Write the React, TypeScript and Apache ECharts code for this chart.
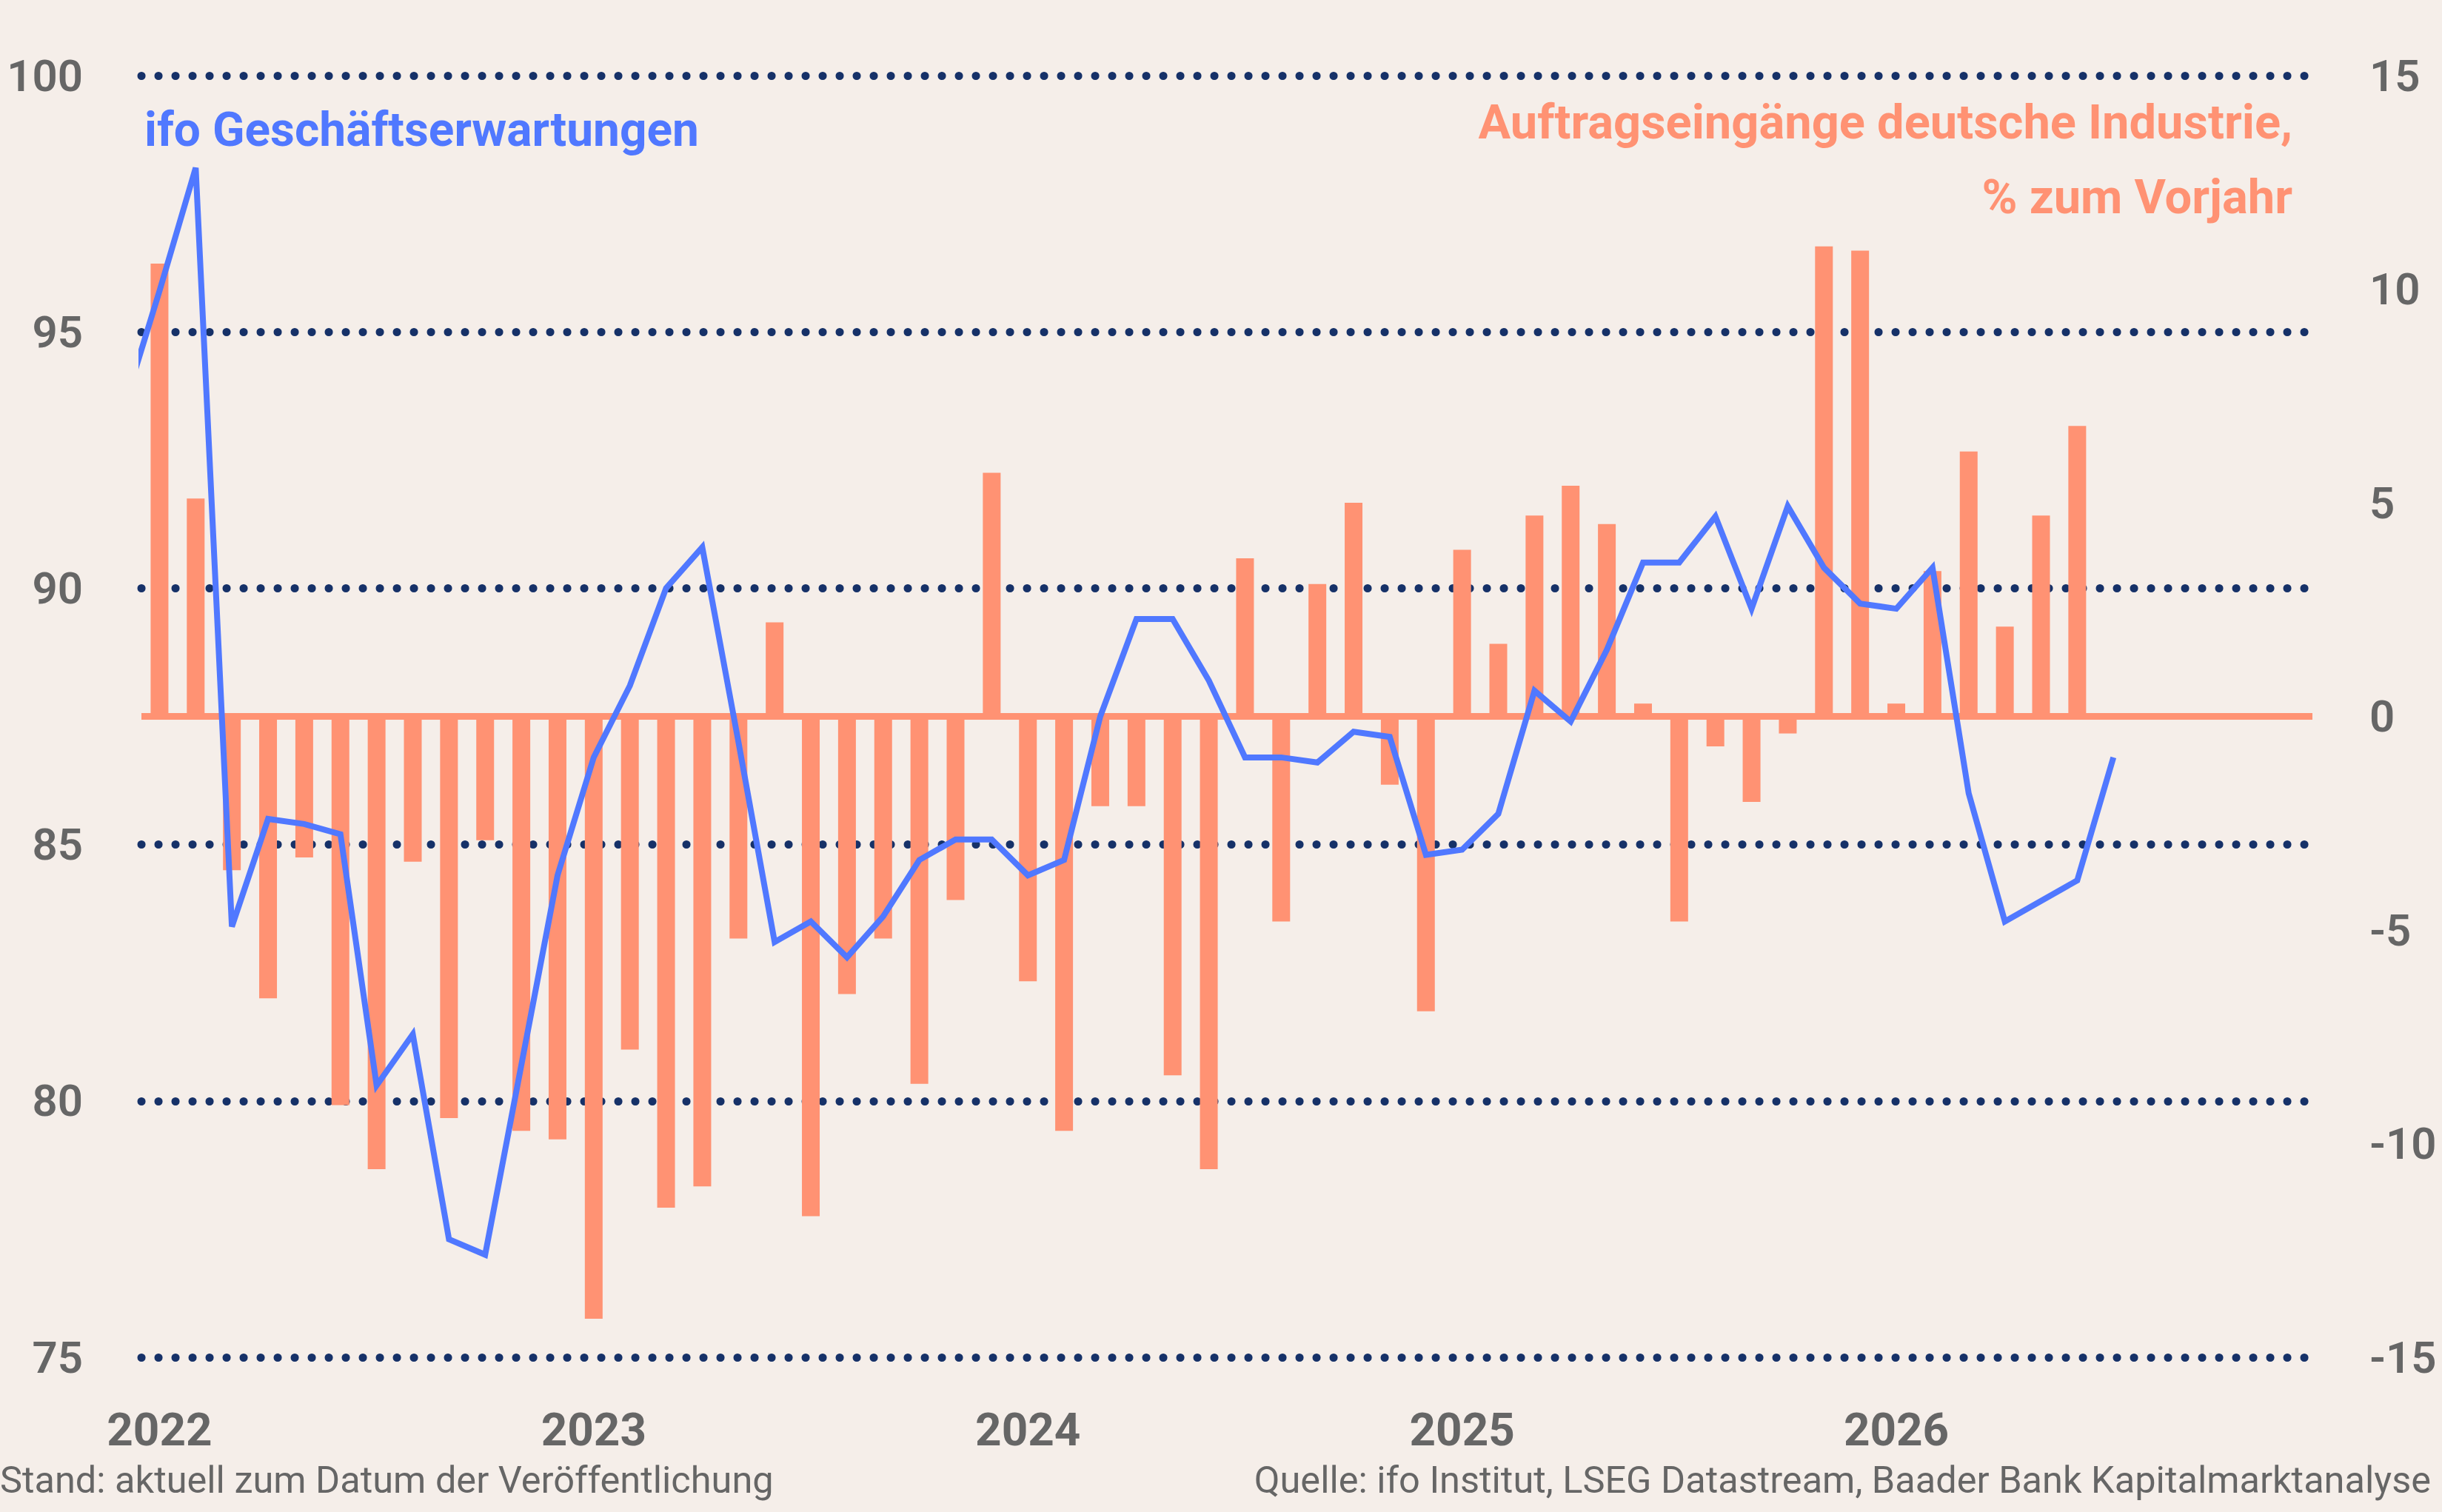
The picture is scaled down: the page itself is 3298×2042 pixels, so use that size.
import React, { useEffect, useRef } from "react";
import * as echarts from "echarts";

// ---- Data ----
const years = ["2022", "2023", "2024", "2025", "2026"];
const monthCodes = ["01", "02", "03", "04", "05", "06", "07", "08", "09", "10", "11", "12"];
const categories: string[] = [];
years.forEach((y) => monthCodes.forEach((m) => categories.push(`${y}-${m}`)));

// Auftragseingänge deutsche Industrie, % zum Vorjahr (Jan 2022 – Jun 2026)
const orders2022 = [10.6, 5.1, -3.6, -6.6, -3.3, -9.1, -10.6, -3.4, -9.4, -2.9, -9.7, -9.9];
const orders2023 = [-14.1, -7.8, -11.5, -11.0, -5.2, 2.2, -11.7, -6.5, -5.2, -8.6, -4.3, 5.7];
const orders2024 = [-6.2, -9.7, -2.1, -2.1, -8.4, -10.6, 3.7, -4.8, 3.1, 5.0, -1.6, -6.9];
const orders2025 = [3.9, 1.7, 4.7, 5.4, 4.5, 0.3, -4.8, -0.7, -2.0, -0.4, 11.0, 10.9];
const orders2026 = [0.3, 3.4, 6.2, 2.1, 4.7, 6.8];
const ordersYoY = [...orders2022, ...orders2023, ...orders2024, ...orders2025, ...orders2026];

// ifo Geschäftserwartungen (Dec 2021 – Jul 2026); first value lies one month before the axis start
const ifoFirstIndex = -1;
const ifoDec2021 = [93.5];
const ifo2022 = [95.8, 98.2, 83.4, 85.5, 85.4, 85.2, 80.3, 81.3, 77.3, 77.0, 80.7, 84.4];
const ifo2023 = [86.7, 88.1, 90.0, 90.8, 87.0, 83.1, 83.5, 82.8, 83.6, 84.7, 85.1, 85.1];
const ifo2024 = [84.4, 84.7, 87.5, 89.4, 89.4, 88.2, 86.7, 86.7, 86.6, 87.2, 87.1, 84.8];
const ifo2025 = [84.9, 85.6, 88.0, 87.4, 88.8, 90.5, 90.5, 91.4, 89.6, 91.6, 90.4, 89.7];
const ifo2026 = [89.6, 90.4, 86.0, 83.5, 83.9, 84.3, 86.7];
const ifoExpectations = [...ifoDec2021, ...ifo2022, ...ifo2023, ...ifo2024, ...ifo2025, ...ifo2026];

const leftMin = 75;
const leftMax = 100;
const rightMin = -15;
const rightMax = 15;
const tickStep = 5;

const titleLeft = "ifo Geschäftserwartungen";
const titleRight1 = "Auftragseingänge deutsche Industrie,";
const titleRight2 = "% zum Vorjahr";
const footLeft = "Stand: aktuell zum Datum der Veröffentlichung";
const footRight = "Quelle: ifo Institut, LSEG Datastream, Baader Bank Kapitalmarktanalyse";

// ---- Styles ----
const BG = "#F5EEE9";
const BLUE = "#5078FF";
const ORANGE = "#FF9273";
const NAVY = "#163168";
const GRAY = "#666666";
const FONT = "Roboto";

export default function App() {
  const ref = useRef<HTMLDivElement | null>(null);

  useEffect(() => {
    document.body.style.margin = "0";
    document.body.style.background = BG;
    if (!ref.current) return;
    const chart = echarts.init(ref.current, null, { renderer: "svg" });

    const lineData = ifoExpectations.map((v, k) => [k + ifoFirstIndex, v]);

    chart.setOption({
      animation: false,
      backgroundColor: BG,
      textStyle: { fontFamily: FONT },
      grid: { left: 191, top: 102, width: 2932, height: 1731, containLabel: false },
      xAxis: [
        {
          type: "category",
          data: categories,
          boundaryGap: true,
          axisLine: { show: false },
          axisTick: { show: false },
          splitLine: { show: false },
          axisLabel: {
            interval: (i: number) => i % 12 === 0,
            formatter: (v: string) => v.slice(0, 4),
            fontSize: 62,
            fontWeight: 700,
            fontFamily: FONT,
            color: GRAY,
            margin: 73,
            lineHeight: 48,
          },
        },
        { type: "value", min: -0.5, max: 59.5, show: false },
      ],
      yAxis: [
        {
          type: "value",
          min: leftMin,
          max: leftMax,
          interval: tickStep,
          position: "left",
          axisLine: { show: false },
          axisTick: { show: false },
          axisLabel: { fontSize: 60, fontWeight: 600, fontFamily: FONT, color: GRAY, margin: 79 },
          splitLine: {
            show: true,
            lineStyle: { color: NAVY, width: 11, type: [0.1, 22.9], cap: "round" },
          },
        },
        {
          type: "value",
          min: rightMin,
          max: rightMax,
          interval: tickStep,
          position: "right",
          axisLine: { show: false },
          axisTick: { show: false },
          splitLine: { show: false },
          axisLabel: { fontSize: 60, fontWeight: 600, fontFamily: FONT, color: GRAY, margin: 77, align: "left" },
        },
      ],
      series: [
        {
          type: "bar",
          xAxisIndex: 0,
          yAxisIndex: 1,
          data: ordersYoY,
          barWidth: 24,
          itemStyle: { color: ORANGE },
          z: 2,
          markLine: {
            silent: true,
            symbol: ["none", "none"],
            label: { show: false },
            lineStyle: { color: ORANGE, width: 9, type: "solid" },
            data: [{ yAxis: 0 }],
          },
        },
        {
          type: "line",
          xAxisIndex: 1,
          yAxisIndex: 0,
          data: lineData,
          symbol: "none",
          showSymbol: false,
          clip: true,
          z: 5,
          lineStyle: { color: BLUE, width: 8, join: "miter" },
        },
      ],
      graphic: [
        {
          type: "text",
          x: 195,
          y: 175,
          style: { text: titleLeft, fill: BLUE, fontSize: 64, fontWeight: 700, fontFamily: FONT, align: "left", verticalAlign: "middle" },
        },
        {
          type: "text",
          x: 3096,
          y: 165,
          style: { text: titleRight1, fill: ORANGE, fontSize: 65, fontWeight: 700, fontFamily: FONT, align: "right", verticalAlign: "middle" },
        },
        {
          type: "text",
          x: 3096,
          y: 266,
          style: { text: titleRight2, fill: ORANGE, fontSize: 65, fontWeight: 700, fontFamily: FONT, align: "right", verticalAlign: "middle" },
        },
        {
          type: "text",
          x: 0,
          y: 1998,
          style: { text: footLeft, fill: GRAY, fontSize: 50.5, fontWeight: 400, fontFamily: FONT, align: "left", verticalAlign: "middle", lineHeight: 40 },
        },
        {
          type: "text",
          x: 3283,
          y: 1998,
          style: { text: footRight, fill: GRAY, fontSize: 50.5, fontWeight: 400, fontFamily: FONT, align: "right", verticalAlign: "middle", lineHeight: 40 },
        },
      ],
    });

    return () => chart.dispose();
  }, []);

  return (
    <div
      ref={ref}
      style={{ position: "absolute", left: 0, top: 0, width: 3298, height: 2042, background: BG }}
    />
  );
}
